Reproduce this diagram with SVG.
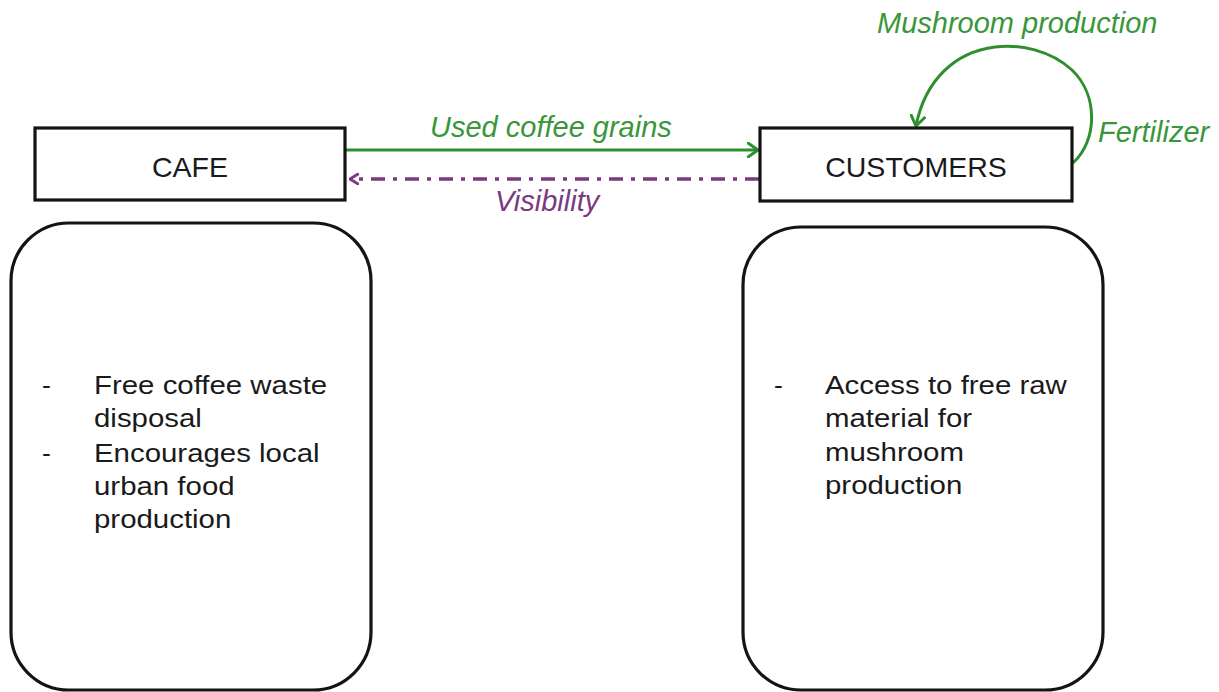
<svg xmlns="http://www.w3.org/2000/svg" width="1219" height="692" viewBox="0 0 1219 692">
  <style>
    .box { fill: #ffffff; stroke: #141414; stroke-width: 3.2; }
    .title { font-family: "Liberation Sans", Arial, sans-serif; font-size: 28.5px; fill: #1a1a1a; text-anchor: middle; }
    .body { font-family: "Liberation Sans", Arial, sans-serif; font-size: 26.5px; fill: #1a1a1a; }
    .lbl { font-family: "Liberation Sans", Arial, sans-serif; font-size: 29px; font-style: italic; }
    .green { fill: #3a963a; }
    .purple { fill: #7a3a80; }
    .flow { fill: none; stroke: #2f8f2f; stroke-width: 3; }
    .back { fill: none; stroke: #7b3a7e; stroke-width: 3.6; stroke-dasharray: 14 8 4 8; }
  </style>
  <defs>
    <marker id="openGreen" viewBox="0 0 12 16" refX="11" refY="8" markerWidth="12" markerHeight="16" markerUnits="userSpaceOnUse" orient="auto">
      <path d="M1,1 L11,8 L1,15" fill="none" stroke="#2f8f2f" stroke-width="3" stroke-linecap="round" stroke-linejoin="round"/>
    </marker>
    <marker id="openPurple" viewBox="0 0 10 12" refX="9" refY="6" markerWidth="10" markerHeight="12" markerUnits="userSpaceOnUse" orient="auto">
      <path d="M1,1 L9,6 L1,11" fill="none" stroke="#7b3a7e" stroke-width="2.8" stroke-linecap="round" stroke-linejoin="round"/>
    </marker>
  </defs>

  <rect width="1219" height="692" fill="#ffffff"/>

  <!-- connectors -->
  <g id="connectors">
    <line class="flow" x1="346" y1="150" x2="758" y2="150" marker-end="url(#openGreen)"/>
    <line class="back" x1="759" y1="179" x2="350" y2="179" marker-end="url(#openPurple)"/>
    <path class="flow" d="M1073,163 C1098,140 1098,95 1072,70 C1050,50 1020,44 995,47 C955,52 925,80 916,126" marker-end="url(#openGreen)"/>
    <text class="lbl green" x="430" y="137">Used coffee grains</text>
    <text class="lbl purple" x="495" y="211">Visibility</text>
    <text class="lbl green" x="877" y="33">Mushroom production</text>
    <text class="lbl green" x="1098" y="142">Fertilizer</text>
  </g>

  <!-- CAFE node -->
  <g id="cafe">
    <rect class="box" x="35" y="128" width="310" height="72"/>
    <text class="title" x="190" y="177">CAFE</text>
  </g>

  <!-- CUSTOMERS node -->
  <g id="customers">
    <rect class="box" x="760" y="128" width="312" height="73"/>
    <text class="title" x="916" y="177">CUSTOMERS</text>
  </g>

  <!-- cafe benefits -->
  <g id="cafe-benefits">
    <rect class="box" x="11" y="223" width="360" height="467" rx="58" ry="58"/>
    <text class="body" x="42" y="394">-</text>
    <text class="body" x="42" y="462">-</text>
    <text class="body" transform="translate(94,0) scale(1.11,1)">
      <tspan x="0" y="394">Free coffee waste</tspan>
      <tspan x="0" y="427">disposal</tspan>
      <tspan x="0" y="462">Encourages local</tspan>
      <tspan x="0" y="495">urban food</tspan>
      <tspan x="0" y="528">production</tspan>
    </text>
  </g>

  <!-- customer benefits -->
  <g id="customer-benefits">
    <rect class="box" x="743" y="227" width="360" height="463" rx="58" ry="58"/>
    <text class="body" x="774" y="394">-</text>
    <text class="body" transform="translate(825,0) scale(1.11,1)">
      <tspan x="0" y="394">Access to free raw</tspan>
      <tspan x="0" y="427">material for</tspan>
      <tspan x="0" y="461">mushroom</tspan>
      <tspan x="0" y="494">production</tspan>
    </text>
  </g>
</svg>
